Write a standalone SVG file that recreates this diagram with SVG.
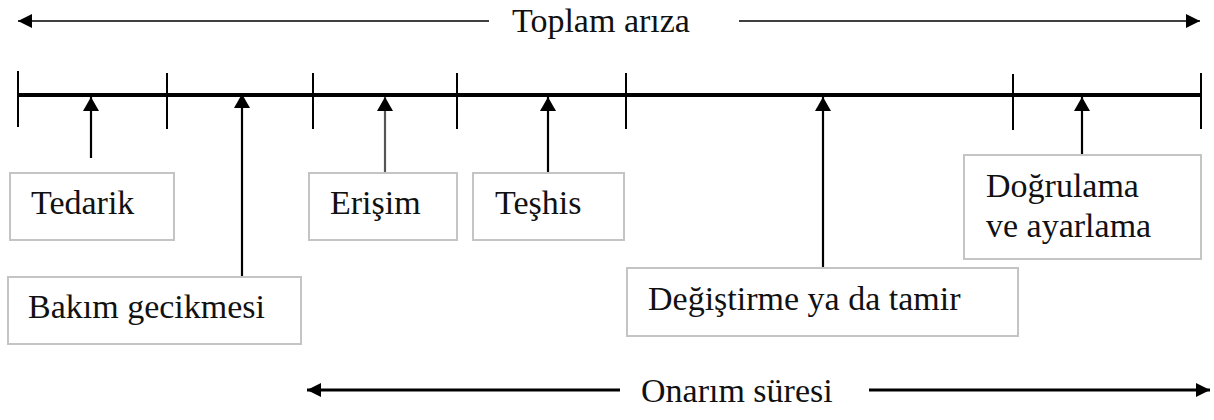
<svg xmlns="http://www.w3.org/2000/svg" width="1214" height="420" viewBox="0 0 1214 420">
<style>
.bg{fill:#ffffff}
.box{fill:#ffffff;stroke:#c4c4c4;stroke-width:2}
.axis{stroke:#000;stroke-width:4;fill:none}
.tick{stroke:#000;stroke-width:2;fill:none}
.up{stroke:#000;stroke-width:2.2;fill:none;marker-end:url(#ah)}
.span1{stroke:#000;stroke-width:1.6;fill:none}
.span2{stroke:#000;stroke-width:3;fill:none}
</style>
<defs>
<marker id="ah" markerUnits="userSpaceOnUse" markerWidth="16" markerHeight="18" refX="14" refY="8" orient="auto" viewBox="0 0 16 16">
<path d="M0,0 L14,8 L0,16 Z" fill="#000"/>
</marker>
<marker id="ah2" markerUnits="userSpaceOnUse" markerWidth="16" markerHeight="14" refX="14" refY="7" orient="auto" viewBox="0 0 16 14">
<path d="M0,0 L14,7 L0,14 Z" fill="#000"/>
</marker>
</defs>
<rect class="bg" x="0" y="0" width="1214" height="420"/>

<g id="connectors">
<line class="span1" x1="489" y1="21" x2="18" y2="21" marker-end="url(#ah2)"/>
<line class="span1" x1="739" y1="21" x2="1200" y2="21" marker-end="url(#ah2)"/>
<line class="axis" x1="18" y1="95" x2="1201" y2="95"/>
<line class="tick" x1="18" y1="71" x2="18" y2="127"/>
<line class="tick" x1="167" y1="73" x2="167" y2="129"/>
<line class="tick" x1="313" y1="73" x2="313" y2="129"/>
<line class="tick" x1="457" y1="73" x2="457" y2="129"/>
<line class="tick" x1="626" y1="73" x2="626" y2="129"/>
<line class="tick" x1="1013" y1="74" x2="1013" y2="130"/>
<line class="tick" x1="1201" y1="73" x2="1201" y2="129"/>
<line class="up" x1="91" y1="158" x2="91" y2="97"/>
<line class="up" x1="242" y1="276" x2="242" y2="94"/>
<line class="up" x1="385" y1="172" x2="385" y2="97" style="stroke:#555"/>
<line class="up" x1="548" y1="172" x2="548" y2="97"/>
<line class="up" x1="823" y1="267" x2="823" y2="97"/>
<line class="up" x1="1082" y1="155" x2="1082" y2="97"/>
<line class="span2" x1="620" y1="390" x2="307" y2="390" marker-end="url(#ah2)"/>
<line class="span2" x1="869" y1="390" x2="1210" y2="390" marker-end="url(#ah2)"/>
</g>

<g font-family="Liberation Serif, Times New Roman, serif" font-size="34" fill="#111111">
<g id="title-total">
<text x="512" y="32">Toplam arıza</text>
</g>
<g id="title-repair">
<text x="641" y="402">Onarım süresi</text>
</g>

<g id="node-tedarik">
<rect class="box" x="10" y="173" width="164" height="67"/>
<text x="31" y="214">Tedarik</text>
</g>
<g id="node-bakim">
<rect class="box" x="8" y="277" width="293" height="67"/>
<text x="28" y="318">Bakım gecikmesi</text>
</g>
<g id="node-erisim">
<rect class="box" x="309" y="173" width="148" height="67"/>
<text x="330" y="214">Erişim</text>
</g>
<g id="node-teshis">
<rect class="box" x="473" y="173" width="151" height="67"/>
<text x="495" y="214">Teşhis</text>
</g>
<g id="node-degistirme">
<rect class="box" x="627" y="268" width="391" height="68"/>
<text x="648" y="310">Değiştirme ya da tamir</text>
</g>
<g id="node-dogrulama">
<rect class="box" x="964" y="155" width="237" height="104"/>
<text x="986" y="197">Doğrulama</text>
<text x="986" y="237">ve ayarlama</text>
</g>
</g>
</svg>
